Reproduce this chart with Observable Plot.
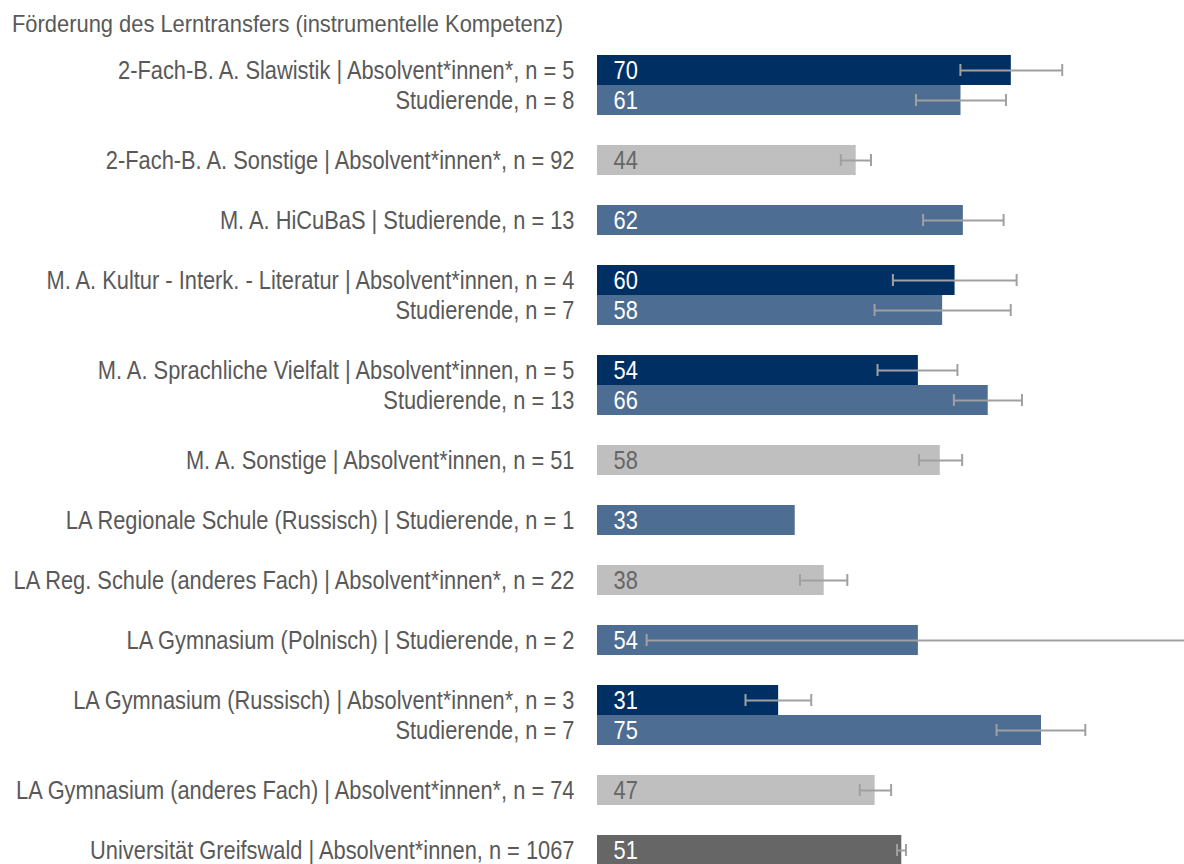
<!DOCTYPE html>
<html>
<head>
<meta charset="utf-8">
<script src="https://cdn.jsdelivr.net/npm/d3@7"></script>
<script src="https://cdn.jsdelivr.net/npm/@observablehq/plot@0.6"></script>
<style>
  html, body { margin: 0; padding: 0; overflow: hidden; background: #fff; width: 1184px; height: 864px; }
  #title { font-family: "Liberation Sans", Arial, sans-serif; font-size: 24px; line-height: 24px; color: #595959;
           position: absolute; left: 12px; top: 12px; white-space: nowrap; transform: scaleX(0.912); transform-origin: 0 0; }
  #chart { position: absolute; left: 0; top: 38px; }
</style>
</head>
<body>
<div id="title">Förderung des Lerntransfers (instrumentelle Kompetenz)</div>
<div id="chart"></div>
<script>
const labels = [
  "2-Fach-B. A. Slawistik | Absolvent*innen*, n = 5",
  "Studierende, n = 8",
  "2-Fach-B. A. Sonstige | Absolvent*innen*, n = 92",
  "M. A. HiCuBaS | Studierende, n = 13",
  "M. A. Kultur - Interk. - Literatur | Absolvent*innen, n = 4",
  "Studierende, n = 7",
  "M. A. Sprachliche Vielfalt | Absolvent*innen, n = 5",
  "Studierende, n = 13",
  "M. A. Sonstige | Absolvent*innen, n = 51",
  "LA Regionale Schule (Russisch) | Studierende, n = 1",
  "LA Reg. Schule (anderes Fach) | Absolvent*innen*, n = 22",
  "LA Gymnasium (Polnisch) | Studierende, n = 2",
  "LA Gymnasium (Russisch) | Absolvent*innen*, n = 3",
  "Studierende, n = 7",
  "LA Gymnasium (anderes Fach) | Absolvent*innen*, n = 74",
  "Universität Greifswald | Absolvent*innen, n = 1067"
];
const values = [69.9, 61.4, 43.7, 61.8, 60.4, 58.3, 54.2, 66.0, 57.9, 33.4, 38.3, 54.2, 30.6, 75.0, 46.9, 51.4];
const lower  = [61.3, 53.8, 41.1, 55.0, 49.9, 46.8, 47.3, 60.2, 54.3, null, 34.2, 8.3, 25.0, 67.4, 44.3, 50.6];
const upper  = [78.5, 69.0, 46.2, 68.6, 70.8, 69.8, 60.8, 71.7, 61.6, null, 42.2, 99.7, 36.1, 82.4, 49.6, 52.1];
const groups = [0, 0, 1, 2, 3, 3, 4, 4, 5, 6, 7, 8, 9, 9, 10, 11];
const kinds  = ["abs", "stud", "other", "stud", "abs", "stud", "abs", "stud", "other", "stud", "other", "stud", "abs", "stud", "other", "uni"];

const colors = {abs: "#003063", stud: "#4d6d93", other: "#bfbfbf", uni: "#666666"};
const textColors = {abs: "#ffffff", stud: "#ffffff", other: "#666666", uni: "#ffffff"};

const bars = labels.map((label, i) => ({
  label, value: values[i], lo: lower[i], hi: upper[i], kind: kinds[i], slot: i + groups[i]
}));
const withErr = bars.filter(d => d.lo != null);
const nSlots = bars[bars.length - 1].slot + 1;
const pitch = 30.1;
const marginTop = 15;
const font = "'Liberation Sans', Arial, sans-serif";

const chart = Plot.plot({
  width: 1184,
  height: Math.round(marginTop + nSlots * pitch),
  marginLeft: 597,
  marginRight: -5,
  marginTop: marginTop,
  marginBottom: 0,
  style: {fontFamily: font, background: "#fff", overflow: "visible"},
  x: {domain: [0, 100], axis: null},
  y: {domain: d3.range(nSlots), axis: null, padding: 0},
  marks: [
    Plot.barX(bars, {x: "value", y: "slot", fill: d => colors[d.kind]}),
    Plot.ruleY(withErr, {x1: "lo", x2: "hi", y: "slot", stroke: "#a0a0a0", strokeWidth: 2}),
    Plot.tickX(withErr, {x: "lo", y: "slot", stroke: "#a0a0a0", strokeWidth: 2, insetTop: 9, insetBottom: 9}),
    Plot.tickX(withErr.filter(d => d.hi < 99), {x: "hi", y: "slot", stroke: "#a0a0a0", strokeWidth: 2, insetTop: 9, insetBottom: 9}),
    Plot.text(bars, {x: 0, y: "slot", text: "label", textAnchor: "end", dx: -23, fill: "#595959", fontSize: 26}),
    Plot.text(bars, {x: 0, y: "slot", text: d => String(Math.round(d.value)), textAnchor: "start", dx: 16, fill: d => textColors[d.kind], fontSize: 26})
  ]
});
document.getElementById("chart").appendChild(chart);
// condense the text horizontally around its anchor point (narrow face look)
chart.querySelectorAll("text").forEach(t => {
  const x = +t.getAttribute("x") || 0;
  const tr = t.getAttribute("transform") || "";
  t.setAttribute("transform", `${tr} translate(${x},0) scale(0.84,1) translate(${-x},0)`);
});
</script>
</body>
</html>
